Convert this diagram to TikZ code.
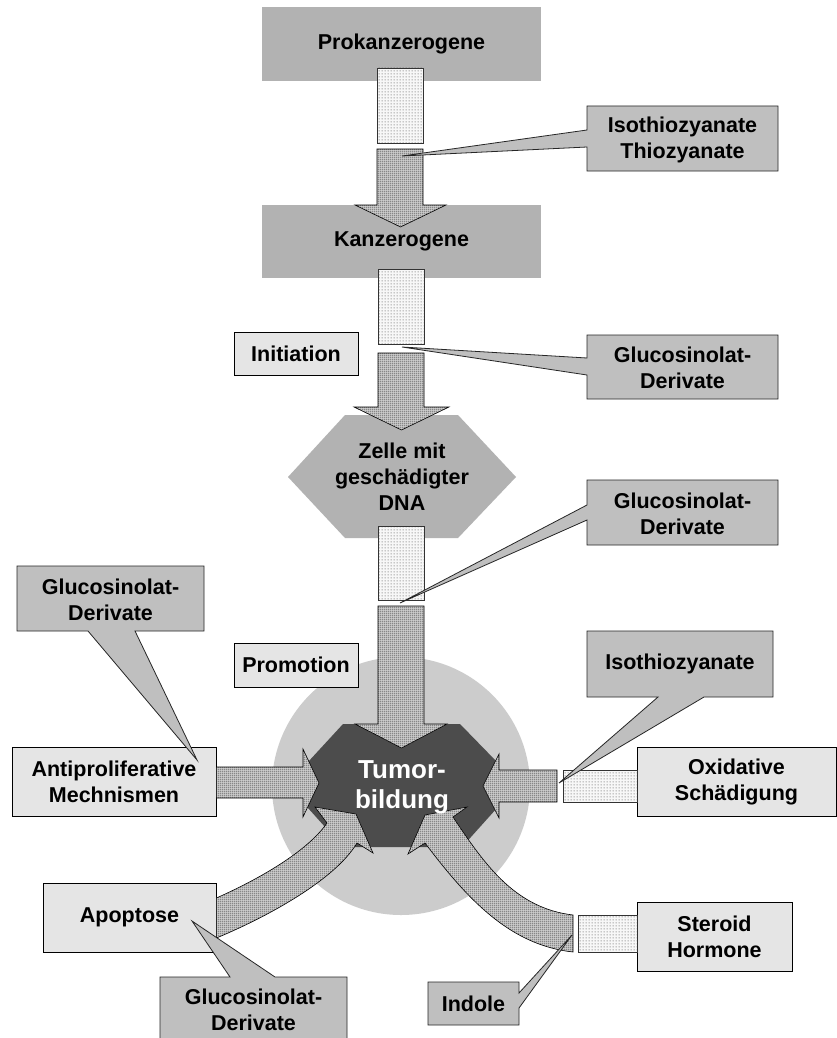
\documentclass[tikz,border=0pt]{standalone}
\usepackage{fontspec}
\setmainfont{Liberation Sans}
\usetikzlibrary{patterns}

\pgfdeclarepatternformonly{densegrid}{\pgfqpoint{0pt}{0pt}}{\pgfqpoint{2pt}{2pt}}{\pgfqpoint{2pt}{2pt}}{%
  \pgfsetlinewidth{0.85pt}%
  \pgfpathmoveto{\pgfqpoint{0pt}{0.5pt}}\pgfpathlineto{\pgfqpoint{2pt}{0.5pt}}%
  \pgfpathmoveto{\pgfqpoint{0.5pt}{0pt}}\pgfpathlineto{\pgfqpoint{0.5pt}{2pt}}%
  \pgfusepath{stroke}}
\pgfdeclarepatternformonly{sparsedots}{\pgfqpoint{0pt}{0pt}}{\pgfqpoint{3pt}{3pt}}{\pgfqpoint{3pt}{3pt}}{%
  \pgfpathcircle{\pgfqpoint{1.5pt}{1.5pt}}{0.75pt}%
  \pgfusepath{fill}}

\definecolor{boxgray}{gray}{0.70}
\definecolor{callgray}{gray}{0.75}
\definecolor{paleface}{gray}{0.90}
\definecolor{circgray}{gray}{0.80}
\definecolor{tumorgray}{gray}{0.30}
\definecolor{arrowbg}{gray}{0.80}
\definecolor{dotbg}{gray}{0.97}

\tikzset{
  lbl/.style={font=\fontsize{21.5}{26}\selectfont\bfseries, align=center, inner sep=0pt},
  graybox/.style={lbl, fill=boxgray},
  lightbox/.style={lbl, draw=black, line width=0.8pt, fill=paleface},
  callout/.style={draw=black!85, line width=0.8pt, fill=callgray, line join=miter},
  bigarrow/.style={draw=black, line width=0.6pt, preaction={fill=arrowbg}, pattern=densegrid, pattern color=black!50, line join=miter},
  dotrect/.style={draw=black!80, line width=0.6pt, preaction={fill=dotbg}, pattern=sparsedots, pattern color=black!55},
}

\begin{document}
\begin{tikzpicture}[x=1pt,y=-1pt]
\useasboundingbox (0,0) rectangle (837,1038);
\fill[white] (0,0) rectangle (837,1038);

% background circle
\fill[circgray] (401,786) circle[radius=129];

% gray main boxes
\node[graybox, minimum width=279pt, minimum height=74pt] (prok) at (401.5,44) {Prokanzerogene};
\node[graybox, minimum width=279pt, minimum height=73pt] (kanz) at (401.5,241.5) {Kanzerogene};
\fill[boxgray] (345,415) -- (458,415) -- (516,477) -- (458,538) -- (345,538) -- (288,477) -- cycle;
\node[lbl] (zelle) at (402,477) {Zelle mit\\geschädigter\\DNA};

% tumor octagon
\fill[tumorgray] (343,724) -- (460,724) -- (497,762) -- (497,808) -- (462,847) -- (343,847) -- (308,808) -- (308,762) -- cycle;

% light boxes
\node[lightbox, minimum width=124pt, minimum height=43pt] (init) at (296,353.5) {Initiation};
\node[lightbox, minimum width=124pt, minimum height=44pt] (prom) at (296,665) {Promotion};
\node[lightbox, minimum width=204pt, minimum height=69pt] (anti) at (114,781.5) {Antiproliferative\\Mechnismen};
\node[lightbox, minimum width=199pt, minimum height=69pt] (oxi) at (736.5,781.5) {Oxidative\\Schädigung};
\node[lightbox, minimum width=173pt, minimum height=69pt] (apo) at (129.5,917.5) {Apoptose};
\node[lightbox, minimum width=155pt, minimum height=69pt] (ster) at (714.5,936.5) {Steroid\\Hormone};

% dotted (blocked) segments
\draw[dotrect] (377,68) rectangle (423,143);
\draw[dotrect] (378,269) rectangle (424,344);
\draw[dotrect] (378,526) rectangle (424,600);
\draw[dotrect] (563,770) rectangle (637,802);
\draw[dotrect] (578,915) rectangle (637,952);

% block arrows
\draw[bigarrow] (377,149) -- (423,149) -- (423,205) -- (446,205) -- (400.5,227) -- (355,205) -- (377,205) -- cycle;
\draw[bigarrow] (378,353) -- (424,353) -- (424,407) -- (449,407) -- (401.5,430) -- (354,407) -- (378,407) -- cycle;
\draw[bigarrow] (378,606) -- (424,606) -- (424,724) -- (447,724) -- (401.5,748) -- (355,724) -- (378,724) -- cycle;
\draw[bigarrow] (anti.east |- 0,767) -- (303,767) -- (303,749) -- (319,783) -- (303,817) -- (303,798) -- (anti.east |- 0,798) -- cycle;
\draw[bigarrow] (557,770) -- (499,770) -- (499,754) -- (483,786) -- (499,818) -- (499,802) -- (557,802) -- cycle;
% curved arrow from Apoptose
\draw[bigarrow] (apo.east |- 0,898) .. controls (257,880) and (307,852) .. (327,823)
   -- (315,807) -- (356,814) -- (373,853) -- (357,843)
   .. controls (335,880) and (267,917) .. (apo.east |- 0,938) -- cycle;
% curved arrow from Steroid Hormone
\draw[bigarrow] (573,915) .. controls (515,908) and (485,865) .. (453,817)
   -- (467,807) -- (425,815) -- (408,854) -- (425,843)
   .. controls (468,900) and (510,945) .. (573,952) -- cycle;

% tumor label
\node[font=\fontsize{26}{30}\selectfont\bfseries, align=center, inner sep=0pt, text=white] (tumor) at (402,787) {Tumor-\\bildung};

% callouts
\coordinate (t1) at (402,156);
\draw[callout] (587,106) -- (778,106) -- (778,171) -- (587,171) -- (587,147) -- (t1) -- (587,130) -- cycle;
\node[lbl] (c1) at (682.5,140) {Isothiozyanate\\Thiozyanate};

\coordinate (t2) at (402,347);
\draw[callout] (587,335) -- (778,335) -- (778,399) -- (587,399) -- (587,375) -- (t2) -- (587,358) -- cycle;
\node[lbl] (c2) at (682.5,368) {Glucosinolat-\\Derivate};

\coordinate (t3) at (400,603);
\draw[callout] (587,480) -- (778,480) -- (778,545) -- (587,545) -- (587,520) -- (t3) -- (587,505) -- cycle;
\node[lbl] (c3) at (682.5,513.5) {Glucosinolat-\\Derivate};

\coordinate (t4) at (197,760);
\draw[callout] (17,566) -- (204,566) -- (204,631) -- (135,631) -- (t4) -- (88,631) -- (17,631) -- cycle;
\node[lbl] (c4) at (110.5,599.5) {Glucosinolat-\\Derivate};

\coordinate (t5) at (559,783);
\draw[callout] (587,631) -- (773,631) -- (773,697) -- (704,697) -- (t5) -- (658,697) -- (587,697) -- cycle;
\node[lbl] (c5) at (680,664) {Isothiozyanate};

\coordinate (t6) at (192,921);
\draw[callout] (160,977) -- (230,977) -- (t6) -- (275,977) -- (347,977) -- (347,1042) -- (160,1042) -- cycle;
\node[lbl] (c6) at (253.5,1009.5) {Glucosinolat-\\Derivate};

\coordinate (t7) at (572,935);
\draw[callout] (428,982) -- (519,982) -- (519,993) -- (t7) -- (519,1008) -- (519,1025) -- (428,1025) -- cycle;
\node[lbl] (c7) at (473.5,1003.5) {Indole};
\end{tikzpicture}
\end{document}
